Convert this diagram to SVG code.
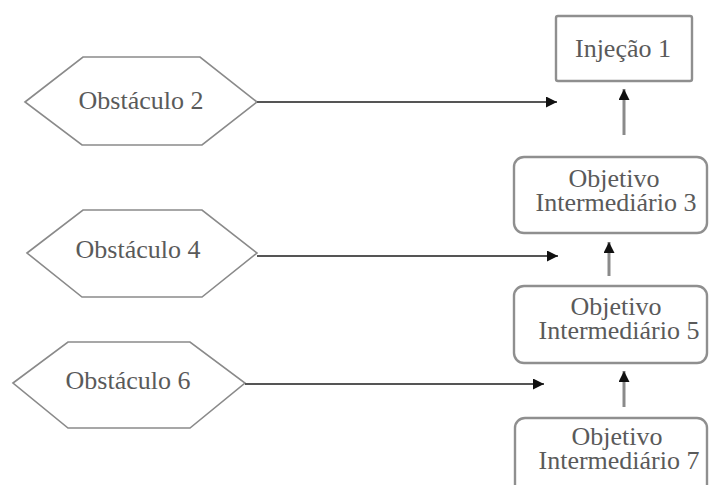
<svg xmlns="http://www.w3.org/2000/svg" width="709" height="485" viewBox="0 0 709 485">
<defs>
<marker id="ah" viewBox="0 0 10 10" refX="10" refY="5" markerWidth="13" markerHeight="11" markerUnits="userSpaceOnUse" orient="auto">
<path d="M0,0 L10,5 L0,10 z" fill="#111"/>
</marker>
<marker id="ahu" viewBox="0 0 10 10" refX="10" refY="5" markerWidth="12" markerHeight="11" markerUnits="userSpaceOnUse" orient="auto">
<path d="M0,0 L10,5 L0,10 z" fill="#111"/>
</marker>
</defs>
<style>
.hex{fill:#fff;stroke:#8a8a8a;stroke-width:1.6}
.box{fill:#fff;stroke:#8f8f8f;stroke-width:2.4}
.t{font-family:"Liberation Serif","Times New Roman",serif;font-size:26px;fill:#5a5a5a;text-anchor:middle}
.h{stroke:#555;stroke-width:2;fill:none}
.v{stroke:#8a8a8a;stroke-width:3;fill:none}
</style>
<rect width="709" height="485" fill="#fff"/>
<g id="obstaculo2">
<polygon class="hex" points="25,102 83,57 200,57 257,102 202,145 82,145"/>
<text class="t" x="141" y="109">Obstáculo 2</text>
</g>
<g id="obstaculo4">
<polygon class="hex" points="27,253 83,210 202,210 257,253 202,297 82,297"/>
<text class="t" x="138" y="258">Obstáculo 4</text>
</g>
<g id="obstaculo6">
<polygon class="hex" points="13,383 68,342 190,342 245,383 190,428 68,428"/>
<text class="t" x="128" y="389">Obstáculo 6</text>
</g>
<g id="injecao1">
<rect class="box" x="556" y="16" width="136" height="65" rx="2"/>
<text class="t" x="623" y="57">Injeção 1</text>
</g>
<g id="objetivo3">
<rect class="box" x="514" y="157" width="193" height="76" rx="10"/>
<text class="t" x="614" y="187">Objetivo</text>
<text class="t" x="616" y="211">Intermediário 3</text>
</g>
<g id="objetivo5">
<rect class="box" x="514" y="286" width="193" height="77" rx="10"/>
<text class="t" x="616" y="315">Objetivo</text>
<text class="t" x="619" y="339">Intermediário 5</text>
</g>
<g id="objetivo7">
<rect class="box" x="515" y="418" width="192" height="90" rx="10"/>
<text class="t" x="617" y="445">Objetivo</text>
<text class="t" x="619" y="469">Intermediário 7</text>
</g>
<g id="connectors">
<line class="h" x1="257" y1="102" x2="557" y2="102" marker-end="url(#ah)"/>
<line class="h" x1="257" y1="256" x2="558" y2="256" marker-end="url(#ah)"/>
<line class="h" x1="245" y1="384" x2="544" y2="384" marker-end="url(#ah)"/>
<line class="v" x1="624" y1="135" x2="624" y2="89" marker-end="url(#ahu)"/>
<line class="v" x1="609" y1="276" x2="609" y2="242" marker-end="url(#ahu)"/>
<line class="v" x1="624" y1="407" x2="624" y2="371" marker-end="url(#ahu)"/>
</g>
</svg>
